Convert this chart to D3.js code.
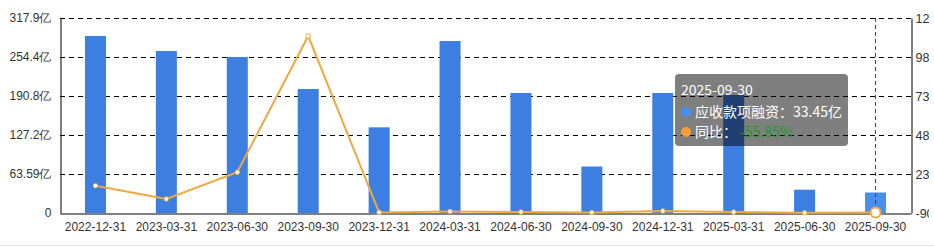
<!DOCTYPE html>
<html><head><meta charset="utf-8">
<script src="https://cdn.jsdelivr.net/npm/d3@7"></script>
<style>
html,body{margin:0;padding:0;background:#fff;overflow:hidden}
svg{display:block;font-family:"Microsoft YaHei","Noto Sans CJK SC",sans-serif}
</style></head><body>
<div id="chart"></div>
<script>
const categories = ["2022-12-31","2023-03-31","2023-06-30","2023-09-30","2023-12-31","2024-03-31","2024-06-30","2024-09-30","2024-12-31","2025-03-31","2025-06-30","2025-09-30"];
const amounts = [288.6,264.1,254.4,202.2,139.7,280.4,195.7,75.76,195.7,192.4,38.0,33.45];
const yoy = [1646,800,2498,11165,-51.6,6.2,-23.1,-62.5,40.1,-31.4,-80.6,-55.85];
const leftTicks = [0,63.59,127.18,190.77,254.36,317.95];
const leftTickLabels = ["0","63.59亿","127.2亿","190.8亿","254.4亿","317.9亿"];
const rightTicks = [-90,2390,4870,7350,9830,12310];
const rightTickLabels = ["-90","2390","4870","7350","9830","12310"];
const hoverIndex = 11;
const seriesNames = ["应收款项融资","同比"];

const W = 934, H = 247;
const m = {l:60, r:23, t:18, b:34};
const root = d3.select("#chart").append("svg").attr("width",W).attr("height",H);
root.append("defs").append("clipPath").attr("id","view").append("rect").attr("x",0).attr("y",0).attr("width",929).attr("height",H);
const svg = root.append("g").attr("clip-path","url(#view)");
const x = d3.scaleBand().domain(categories).range([m.l, W-m.r]).paddingInner(0).paddingOuter(0);
const yL = d3.scaleLinear().domain([leftTicks[0], leftTicks[leftTicks.length-1]]).range([H-m.b, m.t]);
const yR = d3.scaleLinear().domain([rightTicks[0], rightTicks[rightTicks.length-1]]).range([H-m.b, m.t]);

// grid
svg.append("g").selectAll("line").data(leftTicks.slice(1)).join("line")
  .attr("x1",m.l).attr("x2",W-m.r)
  .attr("y1",d=>Math.round(yL(d))+0.5).attr("y2",d=>Math.round(yL(d))+0.5)
  .attr("stroke","#000").attr("stroke-dasharray","5,4").attr("stroke-width",1);

// bars
const bw = 21;
svg.append("g").selectAll("rect").data(amounts).join("rect")
  .attr("x",(d,i)=>x(categories[i])+x.bandwidth()/2-bw/2)
  .attr("width",bw)
  .attr("y",d=>yL(d)).attr("height",d=>yL(0)-yL(d))
  .attr("fill",(d,i)=> i===hoverIndex ? "#4a8ff0" : "#3c7fe0");

// axes
const axL = d3.axisLeft(yL).tickValues(leftTicks).tickFormat((d,i)=>leftTickLabels[i]).tickSize(0).tickPadding(9);
const gL = svg.append("g").attr("transform",`translate(${m.l+0.5},0)`).call(axL);
gL.select(".domain").attr("stroke","#000");
gL.selectAll("text").attr("fill","#333").style("font-size","12px");

const axR = d3.axisRight(yR).tickValues(rightTicks).tickFormat((d,i)=>rightTickLabels[i]).tickSize(0).tickPadding(4);
const gR = svg.append("g").attr("transform",`translate(${W-m.r+0.5},0)`).call(axR);
gR.select(".domain").attr("stroke","#000");
gR.selectAll("text").attr("fill","#333").style("font-size","12.5px");

const axB = d3.axisBottom(x).tickSize(0).tickPadding(9);
const gB = svg.append("g").attr("transform",`translate(0,${H-m.b+0.5})`).call(axB);
gB.select(".domain").attr("stroke","#000");
gB.selectAll("text").attr("fill","#333").style("font-size","12px");

// hover pointer
const hx = x(categories[hoverIndex])+x.bandwidth()/2;
svg.append("line").attr("x1",hx).attr("x2",hx).attr("y1",m.t).attr("y2",H-m.b)
  .attr("stroke","#a31a1a").attr("stroke-dasharray","4,3").attr("stroke-width",1);

// line
const lineColor = "#eeaa40";
const line = d3.line().x((d,i)=>x(categories[i])+x.bandwidth()/2).y(d=>yR(d));
svg.append("path").datum(yoy).attr("d",line).attr("fill","none").attr("stroke",lineColor).attr("stroke-width",2);
svg.append("g").selectAll("circle").data(yoy).join("circle")
  .attr("cx",(d,i)=>x(categories[i])+x.bandwidth()/2).attr("cy",d=>yR(d))
  .attr("r",(d,i)=> i===hoverIndex ? 5 : 2.3)
  .attr("fill","#fff").attr("stroke",lineColor).attr("stroke-width",(d,i)=> i===hoverIndex ? 2 : 1);

// bottom border
root.append("line").attr("x1",0).attr("x2",W).attr("y1",H-1.5).attr("y2",H-1.5).attr("stroke","#e3e3e3").attr("stroke-width",1);

// tooltip
const tt = svg.append("g").attr("transform","translate(675,74)");
tt.append("rect").attr("width",173).attr("height",72).attr("rx",4).attr("fill","rgba(0,0,0,0.5)");
tt.append("text").attr("x",6).attr("y",21).attr("fill","#fff").style("font-size","14px").text(categories[hoverIndex]);
tt.append("circle").attr("cx",11).attr("cy",38).attr("r",5).attr("fill","#4a8ff0");
tt.append("text").attr("x",20).attr("y",43).attr("fill","#fff").style("font-size","14px")
  .text(`${seriesNames[0]}：${amounts[hoverIndex]}亿`);
tt.append("circle").attr("cx",11).attr("cy",58).attr("r",5).attr("fill","#f5a030");
const t3 = tt.append("text").attr("x",20).attr("y",63).attr("fill","#fff").style("font-size","14px");
t3.append("tspan").text(`${seriesNames[1]}：`);
t3.append("tspan").attr("fill","#1d9a1d").attr("dx",3).text(`${yoy[hoverIndex].toFixed(2)}%`);
</script>
</body></html>
